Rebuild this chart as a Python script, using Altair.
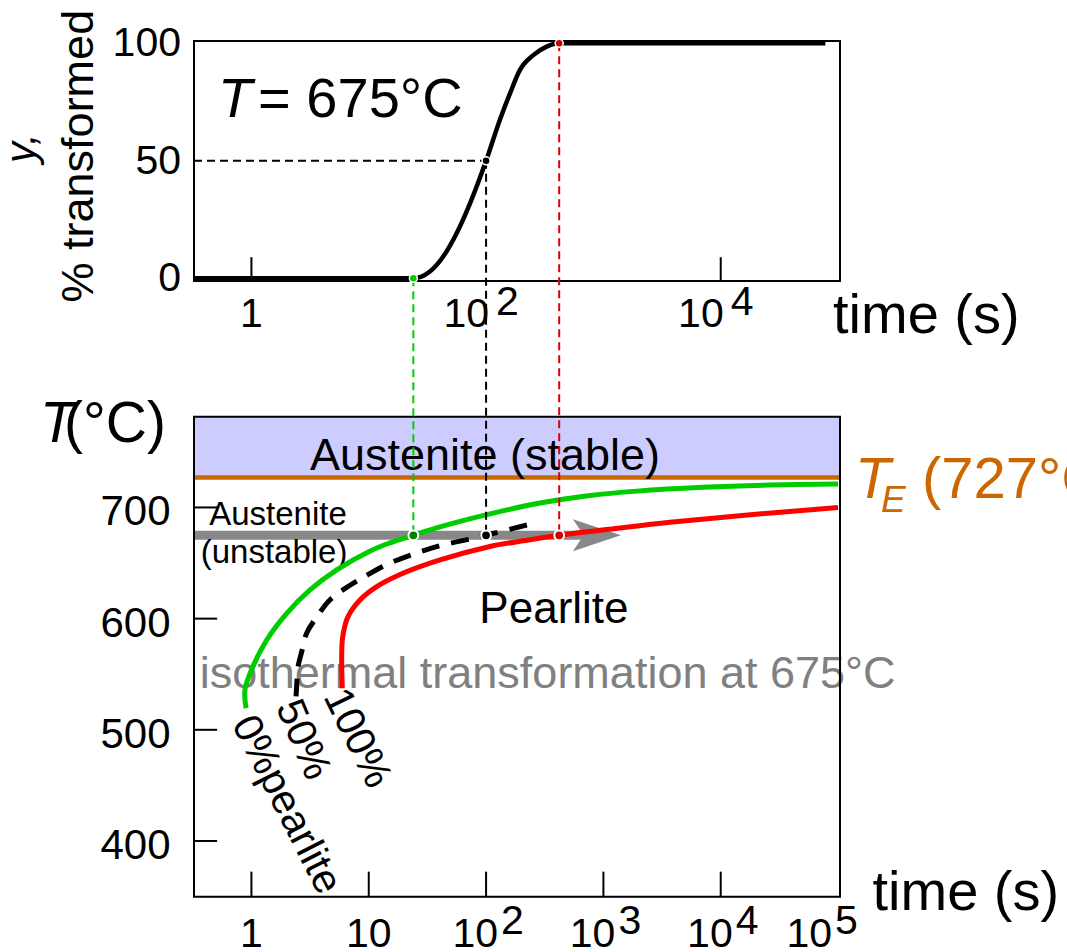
import altair as alt
import pandas as pd

FONT = "Liberation Sans"

# ---------------- scales ----------------
# time (s) on a log axis shared by both panels
X_MIN, X_MAX = 0.324, 103900
# both panels are overlaid on one plot area: % transformed fills the upper band,
# temperature (°C) the lower band
P_LO, P_HI = -263.3, 101.0
T_LO, T_HI = 349.6, 1119.6
P_FRAME = [-1.15, 101.0]      # extent of the upper frame (%)
T_FRAME = [349.9, 781.7]      # extent of the lower frame (°C)

XS = alt.Scale(type="log", domain=[X_MIN, X_MAX], nice=False)
PS = alt.Scale(domain=[P_LO, P_HI], nice=False, zero=False)
TS = alt.Scale(domain=[T_LO, T_HI], nice=False, zero=False)

# ---------------- data ----------------
# fraction of pearlite formed vs. time, isothermal hold at 675 °C
KIN_TIME = [0.33, 24, 33, 43, 56, 73, 100, 131, 160, 194, 253, 328, 420, 78000]
KIN_PCT = [0, 0, 2.8, 9.2, 19.1, 31.9, 50, 67.4, 78.7, 88.6, 95.0, 98.6, 100, 100]

# TTT diagram: start (0 %), half (50 %) and finish (100 %) of the pearlite reaction
START_TIME = [0.90, 0.88, 1.0, 1.35, 2.0, 3.16, 5.33, 10.3, 15.2, 24, 40.5, 108, 288, 768,
              1930, 7050, 26200, 100000]
START_TEMP = [519.4, 535.8, 553.8, 580.8, 604.8, 625.8, 643.8, 660.9, 668.2, 675, 682.5,
              694.2, 704.0, 710.8, 714.7, 718.1, 720.1, 721.1]
HALF_TIME = [2.40, 2.43, 2.49, 2.68, 2.96, 3.69, 4.68, 6.92, 8.93, 15.2, 37.9, 76.6, 100,
             198, 251]
HALF_TEMP = [530, 539, 556, 570, 587, 603, 617, 630, 637, 650, 664.7, 672.1, 675,
             682.9, 685.6]
END_TIME = [5.95, 5.88, 6.0, 6.66, 8.42, 11.7, 18.5, 40.5, 108, 215, 420, 1380, 3690,
            13700, 100000]
END_TEMP = [537.4, 565.8, 583.8, 601.8, 616.8, 628.8, 639.7, 652.8, 664.9, 670.3, 675,
            681.6, 686.7, 692.4, 700]

ISO_TEMP = 675          # isothermal hold
EUTECTOID = 727         # T_E
ARROW_SHAFT_END = 690   # s
ARROW_HEAD_TIME = 880   # s

MARK_PCT = [0, 50, 100]
MARK_TIME = [24, 100, 420]
MARK_LINE = ["#00cc00", "#000000", "#dd0000"]
MARK_TOP_FILL = ["#00cc00", "#000000", "#cc0000"]
MARK_BOTTOM_FILL = ["#007f00", "#000000", "#cc0000"]

TOP_TIME_TICKS = [1, 10000]
BOTTOM_TIME_TICKS = [1, 10, 100, 1000, 10000]
PCT_TICKS = [0, 50, 100]
TEMP_TICKS = [400, 500, 600, 700]
PLAIN_TIME_LABELS = [1, 10]
TOP_POWERS = [2, 4]
BOTTOM_POWERS = [2, 3, 4]
LAST_POWER = [5]

ARROW_PATH = "M 1 0 L -1 -0.67 L -0.55 0 L -1 0.67 Z"

ONE = alt.Data(values=[{}])


def temp_in_pct(temp):
    """Express a temperature in the units of the % scale (same plot height)."""
    frac = (temp - T_LO) / (T_HI - T_LO)
    return P_LO + frac * (P_HI - P_LO)


def xd(v):
    return alt.XDatum(v, scale=XS, axis=None)


def yp(v):
    return alt.YDatum(v, scale=PS, axis=None)


def yt(v):
    return alt.YDatum(v, scale=TS, axis=None)


XF = alt.X("t:Q", scale=XS, axis=None)
YPF = alt.Y("v:Q", scale=PS, axis=None)
YTF = alt.Y("v:Q", scale=TS, axis=None)


def note(text, x, y, size, **props):
    props.setdefault("align", "left")
    props.setdefault("baseline", "alphabetic")
    return alt.Chart(ONE).mark_text(text=text, font=FONT, fontSize=size, **props).encode(x=x, y=y)


def curve_df(times, vals):
    return pd.DataFrame({"t": times, "v": vals, "i": list(range(len(times)))})


# ================= lower panel (temperature) =================
band = alt.Chart(ONE).mark_rect(color="#ccccff").encode(
    x=xd(X_MIN), x2=alt.X2Datum(X_MAX), y=yt(EUTECTOID), y2=alt.Y2Datum(T_FRAME[1]))
eutectoid = alt.Chart(ONE).mark_rule(color="#cc6600", strokeWidth=4.5).encode(
    x=xd(X_MIN), x2=alt.X2Datum(X_MAX), y=yt(EUTECTOID))
shaft = alt.Chart(ONE).mark_rule(color="#888888", strokeWidth=9, strokeCap="butt").encode(
    x=xd(X_MIN), x2=alt.X2Datum(ARROW_SHAFT_END), y=yt(ISO_TEMP))
head = alt.Chart(ONE).mark_point(shape=ARROW_PATH, size=2304, filled=True, color="#888888",
                                 opacity=1, strokeWidth=0).encode(
    x=xd(ARROW_HEAD_TIME), y=yt(ISO_TEMP))

lower_text = [
    note("Austenite (stable)", xd(97.9), yt(733.7), 45, align="center"),
    note("Austenite", xd(1.685), yt(684.3), 33, align="center"),
    note("(unstable)", xd(1.56), yt(649.8), 33, align="center"),
    note("Pearlite", xd(379), yt(595.8), 44, align="center"),
    note("isothermal transformation at 675°C", xd(0.3626), yt(537.4), 45, color="#808080"),
]

start_line = alt.Chart(curve_df(START_TIME, START_TEMP)).mark_line(
    color="#00cc00", strokeWidth=5, interpolate="catmull-rom").encode(x=XF, y=YTF, order="i:Q")
half_line = alt.Chart(curve_df(HALF_TIME, HALF_TEMP)).mark_line(
    color="black", strokeWidth=5, strokeDash=[18, 12], interpolate="catmull-rom").encode(
    x=XF, y=YTF, order="i:Q")
end_line = alt.Chart(curve_df(END_TIME, END_TEMP)).mark_line(
    color="#ff0000", strokeWidth=5, interpolate="catmull-rom").encode(x=XF, y=YTF, order="i:Q")

lower_frame = alt.Chart(ONE).mark_rect(fillOpacity=0, stroke="black", strokeWidth=2).encode(
    x=xd(X_MIN), x2=alt.X2Datum(X_MAX), y=yt(T_FRAME[0]), y2=alt.Y2Datum(T_FRAME[1]))
lower_xticks = alt.Chart(pd.DataFrame({"t": BOTTOM_TIME_TICKS})).mark_rule(
    color="black", strokeWidth=2).encode(x=XF, y=yt(T_FRAME[0]), y2=alt.Y2Datum(T_FRAME[0] + 22.5))
lower_yticks = alt.Chart(pd.DataFrame({"v": TEMP_TICKS})).mark_rule(
    color="black", strokeWidth=2).encode(x=xd(X_MIN), x2=alt.X2Datum(0.51), y=YTF)

temp_labels = alt.Chart(pd.DataFrame({"v": TEMP_TICKS})).mark_text(
    font=FONT, fontSize=42, align="right", baseline="middle", dx=-23.5, dy=5).encode(
    x=xd(X_MIN), y=YTF, text="v:Q")
plain_time = alt.Chart(pd.DataFrame({"t": PLAIN_TIME_LABELS})).mark_text(
    font=FONT, fontSize=41, align="center", baseline="alphabetic", dy=50).encode(
    x=XF, y=yt(T_FRAME[0]), text="t:Q")


def power_labels(powers, y, base_dx, exp_dx, base_dy, exp_dy, size=41):
    df = pd.DataFrame({"t": [10.0 ** p for p in powers], "e": [str(p) for p in powers]})
    base = alt.Chart(df).mark_text(text="10", font=FONT, fontSize=size, align="right",
                                   baseline="alphabetic", dx=base_dx, dy=base_dy).encode(x=XF, y=y)
    exp = alt.Chart(df).mark_text(font=FONT, fontSize=size, align="left",
                                  baseline="alphabetic", dx=exp_dx, dy=exp_dy).encode(
        x=XF, y=y, text="e:N")
    return [base, exp]


lower_powers = (power_labels(BOTTOM_POWERS, yt(T_FRAME[0]), 12, 15, 50, 37)
                + power_labels(LAST_POWER, yt(T_FRAME[0]), -6, -3, 50, 37))

lower_titles = [
    note("T", xd(X_MIN), yt(T_FRAME[1]), 57, fontStyle="italic", dx=-154, dy=25),
    note("(°C)", xd(X_MIN), yt(T_FRAME[1]), 57, dx=-130, dy=25),
    note("time (s)", xd(X_MAX), yt(T_FRAME[0]), 56, dx=32.5, dy=13),
    note("T", xd(X_MAX), yt(EUTECTOID), 58, fontStyle="italic", color="#cc6600", dx=15, dy=20.8),
    note("E", xd(X_MAX), yt(EUTECTOID), 37, fontStyle="italic", color="#cc6600", dx=41, dy=34.2),
    note("(727°C", xd(X_MAX), yt(EUTECTOID), 58, color="#cc6600", dx=82, dy=20.8),
    note("0%pearlite", xd(1.97), yt(432.4), 41, align="center", baseline="middle", angle=63),
    note("50%", xd(2.73), yt(490.9), 41, align="center", baseline="middle", angle=67),
    note("100%", xd(7.89), yt(492.4), 41, align="center", baseline="middle", angle=64),
]

lower = alt.layer(band, eutectoid, shaft, head, *lower_text, start_line, half_line, end_line,
                  lower_frame, lower_xticks, lower_yticks, temp_labels, plain_time,
                  *lower_powers, *lower_titles)

# ================= upper panel (% transformed) =================
upper_frame = alt.Chart(ONE).mark_rect(fillOpacity=0, stroke="black", strokeWidth=2).encode(
    x=xd(X_MIN), x2=alt.X2Datum(X_MAX), y=yp(P_FRAME[0]), y2=alt.Y2Datum(P_FRAME[1]))
upper_xticks = alt.Chart(pd.DataFrame({"t": TOP_TIME_TICKS})).mark_rule(
    color="black", strokeWidth=2).encode(x=XF, y=yp(P_FRAME[0]), y2=alt.Y2Datum(9))

kinetics = alt.Chart(curve_df(KIN_TIME, KIN_PCT)).mark_line(
    color="black", strokeWidth=4.5, interpolate="monotone").encode(x=XF, y=YPF, order="i:Q")

half_guide = alt.Chart(ONE).mark_rule(color="black", strokeWidth=2, strokeDash=[8, 5]).encode(
    x=xd(X_MIN), x2=alt.X2Datum(MARK_TIME[1]), y=yp(MARK_PCT[1]))

connectors = alt.Chart(pd.DataFrame({
    "t": MARK_TIME, "v": MARK_PCT, "c": MARK_LINE,
    "low": [temp_in_pct(ISO_TEMP)] * len(MARK_TIME)})).mark_rule(
    strokeWidth=2, strokeDash=[8, 5]).encode(
    x=XF, y=YPF, y2="low:Q", color=alt.Color("c:N", scale=None))

upper_dots = alt.Chart(pd.DataFrame({"t": MARK_TIME, "v": MARK_PCT, "f": MARK_TOP_FILL})).mark_circle(
    size=64, opacity=1, stroke="white", strokeWidth=1.5).encode(
    x=XF, y=YPF, fill=alt.Fill("f:N", scale=None))

pct_labels = alt.Chart(pd.DataFrame({"v": PCT_TICKS})).mark_text(
    font=FONT, fontSize=41, align="right", baseline="middle", dx=-13, dy=1).encode(
    x=xd(X_MIN), y=YPF, text="v:Q")
upper_one = alt.Chart(pd.DataFrame({"t": [1]})).mark_text(
    font=FONT, fontSize=41, align="center", baseline="alphabetic", dy=46).encode(
    x=XF, y=yp(P_FRAME[0]), text="t:Q")
upper_powers = power_labels(TOP_POWERS, yp(P_FRAME[0]), 3, 10, 46, 34)

upper_titles = [
    note("T", xd(0.52), yp(68.8), 56, fontStyle="italic"),
    note("= 675°C", xd(1.14), yp(68.8), 56),
    note("% transformed", xd(0.0447), yp(52.0), 45, align="center", angle=270),
    note("y,", xd(0.0143), yp(55.4), 42, align="center", angle=270, fontStyle="italic"),
    note("time (s)", xd(X_MAX), yp(P_FRAME[0]), 56, dx=-7, dy=52),
]

upper = alt.layer(upper_frame, upper_xticks, kinetics, half_guide, connectors, upper_dots,
                  pct_labels, upper_one, *upper_powers, *upper_titles)

# markers of the 0 / 50 / 100 % points on the 675 °C isotherm
lower_dots = alt.Chart(pd.DataFrame({
    "t": MARK_TIME, "v": [ISO_TEMP] * len(MARK_TIME), "f": MARK_BOTTOM_FILL})).mark_circle(
    size=95, opacity=1, stroke="white", strokeWidth=2).encode(
    x=XF, y=YTF, fill=alt.Fill("f:N", scale=None))

chart = alt.layer(lower, upper, lower_dots).resolve_scale(y="independent").properties(
    width=646, height=856,
    autosize=alt.AutoSizeParams(type="none"),
    padding={"left": 194, "top": 41, "right": 227, "bottom": 55},
    background="white",
).configure_view(stroke=None)

chart.save("out.html", embed_options={"renderer": "svg", "actions": False})
